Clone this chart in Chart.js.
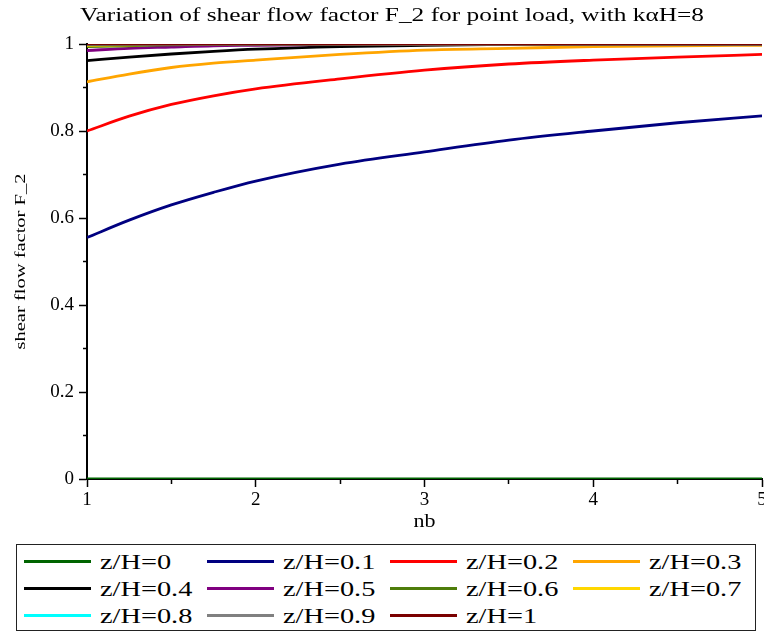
<!DOCTYPE html>
<html>
<head>
<meta charset="utf-8">
<script src="https://cdn.jsdelivr.net/npm/chart.js@4.4.1/dist/chart.umd.min.js"></script>
<style>
  html, body { margin: 0; padding: 0; background: #fff; }
  #wrap { position: relative; width: 764px; height: 633px; overflow: hidden; }
  #plot { position: absolute; left: 0; top: 0; }
  #legend { position: absolute; left: 16px; top: 544px; width: 740px; height: 87px;
            border: 1.5px solid #222; box-sizing: border-box; }
  .item { position: absolute; height: 26px; }
  .swatch { position: absolute; left: 0; top: 11px; width: 67px; height: 3px; }
  .lbl { position: absolute; left: 76px; top: 0; font: 21px "Liberation Serif", serif;
         color: #000; white-space: nowrap; transform: scaleX(1.35); transform-origin: left center; line-height: 26px; }
</style>
</head>
<body>
<div id="wrap">
  <canvas id="plot" width="764" height="540"></canvas>
  <div id="legend"></div>
</div>
<script>
(() => {
    // nb values along the x axis
    const nbValues = [1, 1.25, 1.5, 1.75, 2, 2.5, 3, 3.5, 4, 4.5, 5];

    // shear flow factor F_2 for each z/H
    const f2_z00 = [0, 0, 0, 0, 0, 0, 0, 0, 0, 0, 0];
    const f2_z01 = [0.555, 0.595, 0.630, 0.659, 0.685, 0.724, 0.752, 0.779, 0.800, 0.819, 0.835];
    const f2_z02 = [0.800, 0.834, 0.861, 0.881, 0.897, 0.920, 0.940, 0.954, 0.963, 0.970, 0.976];
    const f2_z03 = [0.913, 0.931, 0.946, 0.956, 0.963, 0.976, 0.986, 0.990, 0.994, 0.996, 0.997];
    const f2_z04 = [0.962, 0.970, 0.977, 0.983, 0.988, 0.994, 0.997, 0.999, 1, 1, 1];
    const f2_z05 = [0.985, 0.990, 0.993, 0.996, 0.997, 0.999, 1, 1, 1, 1, 1];
    const f2_z06 = [0.994, 0.996, 0.998, 0.999, 1, 1, 1, 1, 1, 1, 1];
    const f2_z07 = [0.997, 0.998, 0.999, 1, 1, 1, 1, 1, 1, 1, 1];
    const f2_z08 = [0.999, 1, 1, 1, 1, 1, 1, 1, 1, 1, 1];
    const f2_z09 = [1, 1, 1, 1, 1, 1, 1, 1, 1, 1, 1];
    const f2_z10 = [1, 1, 1, 1, 1, 1, 1, 1, 1, 1, 1];

    const seriesNames = ['z/H=0', 'z/H=0.1', 'z/H=0.2', 'z/H=0.3', 'z/H=0.4', 'z/H=0.5',
                         'z/H=0.6', 'z/H=0.7', 'z/H=0.8', 'z/H=0.9', 'z/H=1'];
    const seriesValues = [f2_z00, f2_z01, f2_z02, f2_z03, f2_z04, f2_z05,
                          f2_z06, f2_z07, f2_z08, f2_z09, f2_z10];
    const seriesColors = ['#006400', '#000080', '#ff0000', '#ffa500', '#000000', '#800080',
                          '#4e7d0a', '#ffd700', '#00ffff', '#808080', '#7a0000'];

    const yTickLabels = ['0', '0.2', '0.4', '0.6', '0.8', '1'];
    const xTickLabels = ['1', '2', '3', '4', '5'];

    const titleText = 'Variation of shear flow factor F_2 for point load, with k\u03b1H=8';
    const yTitle = 'shear flow factor F_2';
    const xTitle = 'nb';

    const serif = '"Liberation Serif", "Times New Roman", serif';

    // legend (html, 4 columns)
    const legend = document.getElementById('legend');
    seriesNames.forEach((name, i) => {
        const el = document.createElement('div');
        el.className = 'item';
        el.style.left = (7 + (i % 4) * 183) + 'px';
        el.style.top = (4 + Math.floor(i / 4) * 27) + 'px';
        el.innerHTML = `<div class="swatch" style="background:${seriesColors[i]}"></div><div class="lbl">${name}</div>`;
        legend.appendChild(el);
    });

    // stretched text helper (reference text is drawn wide)
    function wideText(ctx, text, x, y, font, width, rot) {
        ctx.save();
        ctx.font = font;
        ctx.fillStyle = '#000';
        ctx.textAlign = 'center';
        ctx.textBaseline = 'middle';
        ctx.translate(x, y);
        if (rot) ctx.rotate(rot);
        ctx.scale(width / ctx.measureText(text).width, 1);
        ctx.fillText(text, 0, 0);
        ctx.restore();
    }

    const textPlugin = {
        id: 'texts',
        afterDraw(chart) {
            const ctx = chart.ctx;
            const area = chart.chartArea;
            wideText(ctx, titleText, 392, 16, '19px ' + serif, 624, 0);
            wideText(ctx, yTitle, 21, (area.top + area.bottom) / 2, '15px ' + serif, 176, -Math.PI / 2);
            wideText(ctx, xTitle, (area.left + area.right) / 2, 522, '18px ' + serif, 22, 0);
        },
    };

    const isMinor = (v) => Math.abs(v * 10 - Math.round(v * 10)) < 1e-6 && Math.round(v * 10) % 2 !== 0;

    new Chart(document.getElementById('plot'), {
        type: 'line',
        data: {
            datasets: seriesValues.map((vals, i) => ({
                label: seriesNames[i],
                data: nbValues.map((x, j) => ({ x, y: vals[j] })),
                borderColor: seriesColors[i],
                backgroundColor: seriesColors[i],
                borderWidth: 2.8,
                pointRadius: 0,
                cubicInterpolationMode: 'monotone',
                order: seriesValues.length - i,
            })),
        },
        options: {
            responsive: false,
            animation: false,
            devicePixelRatio: 1,
            layout: { padding: { top: 44, left: 0, right: 2, bottom: 0 } },
            plugins: { legend: { display: false }, title: { display: false }, tooltip: { enabled: false } },
            scales: {
                x: {
                    type: 'linear', min: 1, max: 5,
                    afterFit: (s) => { s.height = 61; s.paddingLeft = 0; s.paddingRight = 0; },
                    border: { display: true, color: '#000', width: 2 },
                    grid: {
                        drawOnChartArea: false, tickLength: 8, tickColor: '#000', tickWidth: 1.5,
                        tickBorderDash: (c) => (c.tick && !Number.isInteger(c.tick.value) ? [4, 4] : []),
                        tickBorderDashOffset: 0,
                    },
                    ticks: {
                        stepSize: 0.5, padding: 2, color: '#000', maxRotation: 0, autoSkip: false,
                        font: { family: serif, size: 19 },
                        callback: (v) => (Number.isInteger(v) ? xTickLabels[v - 1] : ''),
                    },
                },
                y: {
                    min: 0, max: 1,
                    afterFit: (s) => { s.width = 87; s.paddingTop = 0; s.paddingBottom = 0; },
                    border: { display: true, color: '#000', width: 2 },
                    grid: {
                        drawOnChartArea: false, tickLength: 8, tickColor: '#000', tickWidth: 1.5,
                        tickBorderDash: (c) => (c.tick && isMinor(c.tick.value) ? [4, 4] : []),
                        tickBorderDashOffset: (c) => (c.tick && isMinor(c.tick.value) ? 4 : 0),
                    },
                    ticks: {
                        stepSize: 0.1, padding: 5, color: '#000', autoSkip: false,
                        font: { family: serif, size: 19 },
                        callback: (v) => {
                            const k = Math.round(v * 10);
                            return k % 2 === 0 ? yTickLabels[k / 2] : '';
                        },
                    },
                },
            },
        },
        plugins: [textPlugin],
    });
})();
</script>
</body>
</html>
